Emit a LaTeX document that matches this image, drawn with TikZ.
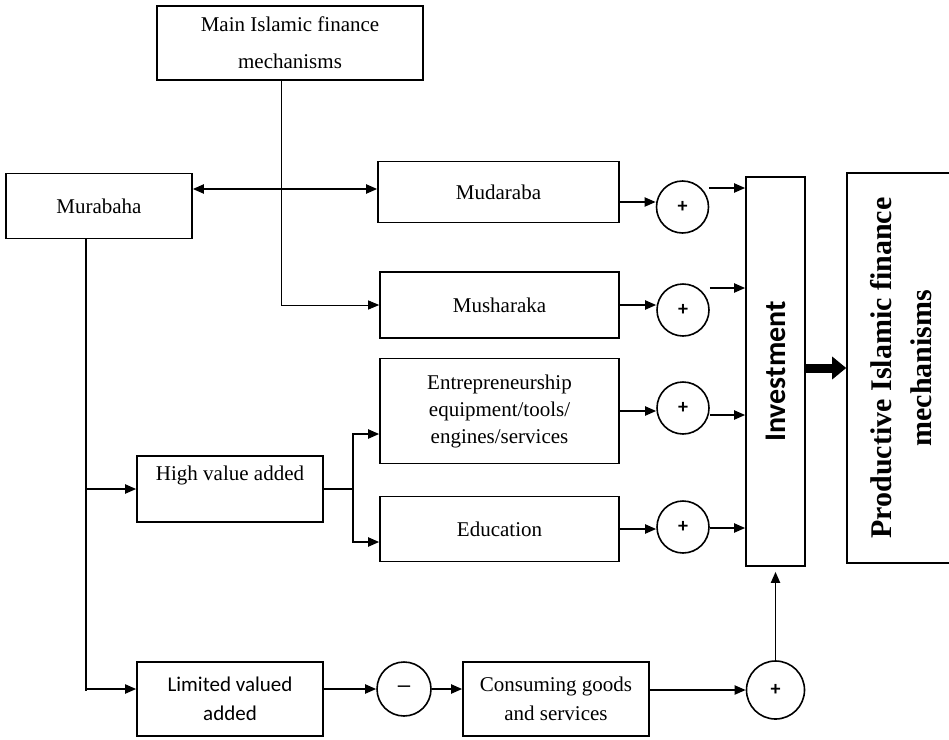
\documentclass[tikz,border=0pt]{standalone}
\usepackage{fontspec}
\setmainfont{Liberation Serif}
\newfontfamily\carlito{Carlito}
\usepackage{graphicx}
\usetikzlibrary{arrows.meta,calc}
\tikzset{
  box/.style={draw, line width=1.6pt, inner sep=2pt, align=center, font=\fontsize{21}{27}\selectfont},
  circ/.style={draw, circle, line width=1.6pt, minimum size=52pt, inner sep=0pt, font=\carlito\bfseries\fontsize{20}{20}\selectfont},
  arr/.style={line width=1.9pt, -{Triangle[length=11pt,width=9pt]}},
  dbl/.style={line width=1.9pt, {Triangle[length=11pt,width=9pt]}-{Triangle[length=11pt,width=9pt]}},
  thin/.style={line width=1pt, -{Triangle[length=11pt,width=9pt]}},
  trunk/.style={line width=2.8pt},
  bigarr/.style={line width=9pt, -{Triangle[length=14pt,width=22pt]}},
}
\begin{document}
\begin{tikzpicture}[x=1pt,y=-1pt]
\useasboundingbox (0,0) rectangle (949,739);
% boxes
\node[box, minimum width=266pt, minimum height=74pt, font=\fontsize{21}{37}\selectfont] (main) at (290,43) {Main Islamic finance\\mechanisms};
\node[box, minimum width=186pt, minimum height=65pt] (mur) at (99,206) {Murabaha};
\node[box, minimum width=241pt, minimum height=61pt] (mud) at (498.5,192) {Mudaraba};
\node[box, minimum width=239pt, minimum height=66pt] (mush) at (499.5,305) {Musharaka};
\node[box, minimum width=239pt, minimum height=105pt] (ent) at (499.5,411) {Entrepreneurship\\equipment/tools/\\engines/services};
\node[box, minimum width=239pt, minimum height=65pt] (edu) at (499.5,529) {Education};
\node[box, minimum width=186pt, minimum height=66pt, font=\fontsize{21}{24}\selectfont] (hva) at (230,489) {High value added\\\strut};
\node[box, minimum width=186pt, minimum height=74pt, font=\carlito\fontsize{21}{29}\selectfont] (lim) at (230,699) {Limited valued\\added};
\node[box, minimum width=186pt, minimum height=74pt, font=\fontsize{21}{28.5}\selectfont] (cons) at (556,699) {Consuming goods\\and services};
\node[box, minimum width=59pt, minimum height=389pt] (inv) at (775.5,371.5) {\rotatebox{90}{\carlito\bfseries\fontsize{30}{30}\selectfont Investment}};
\node[box, minimum width=108pt, minimum height=390pt] (prod) at (901,368) {\rotatebox{90}{\parbox{380pt}{\centering\bfseries\fontsize{30}{40}\selectfont Productive Islamic finance\\mechanisms}}};
% circles
\node[circ] (c1) at (682.5,207) {+};
\node[circ] (c2) at (683,310) {+};
\node[circ] (c3) at (683,408) {+};
\node[circ] (c4) at (683,527) {+};
\node[circ, minimum size=54pt, font=\carlito\bfseries\fontsize{17}{17}\selectfont] (minus) at (404,689) {—};
\node[circ, minimum size=58pt] (c5) at (775.5,690) {+};
% connectors
\draw[dbl] ([yshift=17pt]mur.east) -- ([yshift=17pt]mur.east -| mud.west);
\draw[thin] ([xshift=-9pt]main.south) |- (mush.west);
\coordinate (tb) at (86,691);
\draw[trunk] ([xshift=-13pt]mur.south) -- (tb);
\draw[arr] (tb |- hva.west) -- (hva.west);
\draw[arr] ([yshift=10pt]lim.west -| tb) -- ([yshift=10pt]lim.west);
\coordinate (sp) at ($(hva.east)+(29,0)$);
\draw[line width=2.4pt] (hva.east) -- (sp);
\draw[arr] (sp) |- ([yshift=-23pt]ent.west);
\draw[arr] (sp) |- ([yshift=-13pt]edu.west);
\draw[arr] ([yshift=-10pt]mud.east) -- ([yshift=-10pt]mud.east -| c1.west);
\draw[arr] (mush.east) -- (mush.east -| c2.west);
\draw[arr] (ent.east) -- (ent.east -| c3.west);
\draw[arr] (edu.east) -- (edu.east -| c4.west);
\draw[arr] ([yshift=19pt]c1.east) -- ([yshift=19pt]c1.east -| inv.west);
\draw[arr] ([yshift=22pt]c2.east) -- ([yshift=22pt]c2.east -| inv.west);
\draw[arr] ([yshift=-7pt]c3.east) -- ([yshift=-7pt]c3.east -| inv.west);
\draw[arr] ([yshift=-1pt]c4.east) -- ([yshift=-1pt]c4.east -| inv.west);
\draw[bigarr] ([yshift=3.5pt]inv.east) -- ([yshift=3.5pt]inv.east -| prod.west);
\draw[arr] ([yshift=10pt]lim.east) -- (minus.west);
\draw[arr] (minus.east) -- (minus.east -| cons.west);
\draw[arr] ([yshift=9pt]cons.east) -- (c5.west);
\draw[arr, shorten >=5pt] (c5.north) -- (inv.south);
\end{tikzpicture}
\end{document}
